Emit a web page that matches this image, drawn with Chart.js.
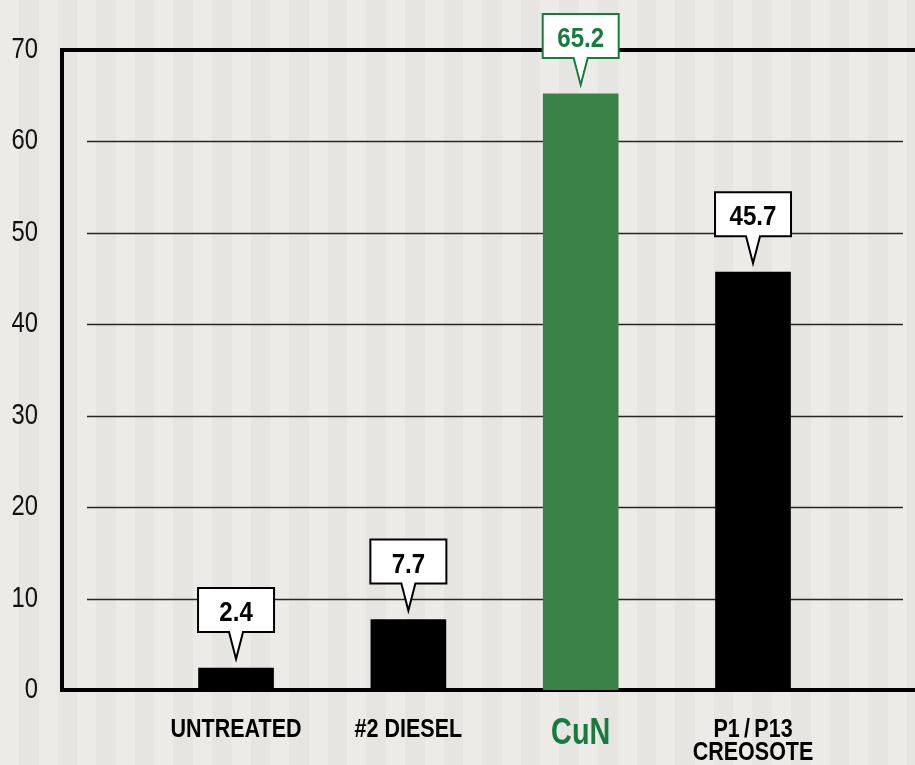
<!DOCTYPE html>
<html>
<head>
<meta charset="utf-8">
<script src="https://cdn.jsdelivr.net/npm/chart.js@4/dist/chart.umd.min.js"></script>
<style>
  html, body { margin: 0; padding: 0; }
  body {
    width: 915px;
    height: 765px;
    overflow: hidden;
    background: repeating-linear-gradient(90deg, #ecebe7 0px, #ecebe7 19px, #e6e5e1 19px, #e6e5e1 38.6px);
  }
  #wrap { position: relative; width: 915px; height: 765px; }
</style>
</head>
<body>
<div id="wrap"><canvas id="chart"></canvas></div>
<script>
const categories = ['UNTREATED', '#2 DIESEL', 'CuN', ['P1\u2009/\u2009P13', 'CREOSOTE']];
const values = [2.4, 7.7, 65.2, 45.7];
const yTicks = [0, 10, 20, 30, 40, 50, 60, 70];

const GREEN = '#3a8348';
const GREEN_TEXT = '#177a3f';
const FONT = "'Liberation Sans', Arial, sans-serif";
const highlight = 2; // CuN

// the original uses a condensed Helvetica; squeeze Liberation Sans to get close
function narrowText(ctx, text, x, y, font, color, align, baseline, sx) {
    ctx.save();
    ctx.translate(x, y);
    ctx.scale(sx, 1);
    ctx.font = font;
    ctx.fillStyle = color;
    ctx.textAlign = align;
    ctx.textBaseline = baseline;
    ctx.fillText(text, 0, 0);
    ctx.restore();
}

// frame line on top + inset gridlines
const framePlugin = {
    id: 'frame',
    beforeDatasetsDraw(chart) {
        const { ctx, chartArea, scales } = chart;
        ctx.save();
        ctx.strokeStyle = '#262626';
        ctx.lineWidth = 1.3;
        yTicks.slice(1, -1).forEach(v => {
            const y = Math.round(scales.y.getPixelForValue(v)) + 0.5;
            ctx.beginPath();
            ctx.moveTo(chartArea.left + 25, y);
            ctx.lineTo(chartArea.right - 12, y);
            ctx.stroke();
        });
        ctx.strokeStyle = '#000';
        ctx.lineWidth = 4;
        ctx.beginPath();
        ctx.moveTo(chartArea.left - 2, chartArea.top);
        ctx.lineTo(chartArea.right, chartArea.top);
        ctx.stroke();
        ctx.restore();
    }
};

// axis labels, placed from the scales
const labelsPlugin = {
    id: 'labels',
    afterDraw(chart) {
        const { ctx, chartArea, scales } = chart;
        scales.y.ticks.forEach(t => {
            narrowText(ctx, String(t.value), chartArea.left - 24, scales.y.getPixelForValue(t.value),
                '29px ' + FONT, '#111', 'right', 'middle', 0.82);
        });
        categories.forEach((c, i) => {
            const x = scales.x.getPixelForValue(i);
            if (i === highlight) {
                narrowText(ctx, c, x, chartArea.bottom + 54, 'bold 36px ' + FONT, GREEN_TEXT, 'center', 'alphabetic', 0.8);
                return;
            }
            const lines = Array.isArray(c) ? c : [c];
            lines.forEach((line, j) => {
                narrowText(ctx, line, x, chartArea.bottom + 47 + j * 22.5, 'bold 25px ' + FONT, '#000', 'center', 'alphabetic', 0.86);
            });
        });
    }
};

// speech-bubble value labels
const calloutPlugin = {
    id: 'callouts',
    afterDatasetsDraw(chart) {
        const { ctx } = chart;
        const meta = chart.getDatasetMeta(0);
        meta.data.forEach((bar, i) => {
            const col = i === highlight ? GREEN_TEXT : '#000';
            const w = bar.width + 1;
            const left = bar.x - w / 2;
            const tip = bar.y - 9;
            const bottom = tip - 27;
            const top = bottom - 44;
            ctx.save();
            ctx.beginPath();
            ctx.moveTo(left, top);
            ctx.lineTo(left + w, top);
            ctx.lineTo(left + w, bottom);
            ctx.lineTo(bar.x + 7, bottom);
            ctx.lineTo(bar.x, tip);
            ctx.lineTo(bar.x - 7, bottom);
            ctx.lineTo(left, bottom);
            ctx.closePath();
            ctx.fillStyle = '#fff';
            ctx.fill();
            ctx.lineWidth = 2;
            ctx.strokeStyle = col;
            ctx.stroke();
            ctx.restore();
            narrowText(ctx, values[i].toFixed(1), bar.x, bottom - 11, 'bold 28px ' + FONT, col, 'center', 'alphabetic', 0.86);
        });
    }
};

new Chart(document.getElementById('chart'), {
    type: 'bar',
    data: {
        datasets: [{
            data: values.map((v, i) => ({ x: i, y: v })),
            backgroundColor: values.map((v, i) => i === highlight ? GREEN : '#000'),
            barThickness: 75
        }]
    },
    options: {
        responsive: true,
        maintainAspectRatio: false,
        animation: false,
        layout: { padding: { top: 50, right: 0, bottom: 0, left: 0 } },
        plugins: {
            legend: { display: false },
            tooltip: { enabled: false }
        },
        scales: {
            x: {
                type: 'linear',
                offset: false,
                min: -1.01,
                max: 3.94,
                afterBuildTicks: scale => { scale.ticks = categories.map((c, i) => ({ value: i })); },
                afterFit: scale => { scale.height = 75; },
                grid: { display: false, drawTicks: false },
                border: { display: true, color: '#000', width: 4 },
                ticks: { display: false }
            },
            y: {
                min: 0,
                max: 70,
                afterBuildTicks: scale => { scale.ticks = yTicks.map(v => ({ value: v })); },
                afterFit: scale => { scale.width = 62; },
                grid: { display: false, drawTicks: false },
                border: { display: true, color: '#000', width: 4 },
                ticks: { display: false }
            }
        }
    },
    plugins: [framePlugin, calloutPlugin, labelsPlugin]
});
</script>
</body>
</html>
